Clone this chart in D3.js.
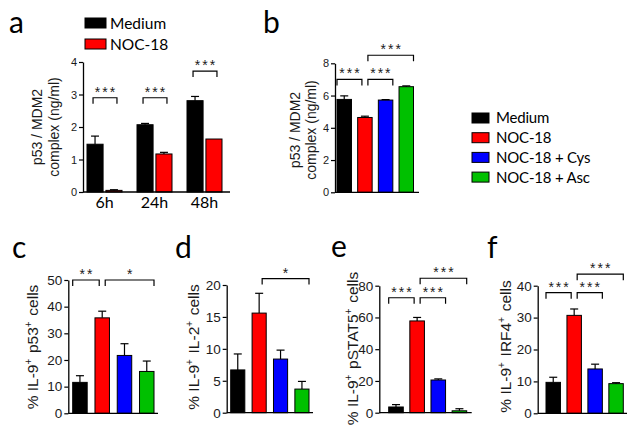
<!DOCTYPE html>
<html>
<head>
<meta charset="utf-8">
<script src="https://cdn.jsdelivr.net/npm/d3@7"></script>
<style>
  body { margin: 0; background: #fff; }
  text { font-family: "Liberation Sans", Arial, sans-serif; fill: #1a1a1a; }
  .calibri { font-family: Lato, "Open Sans", sans-serif; fill: #000; }
</style>
</head>
<body>
<svg id="fig" width="636" height="437"></svg>
<script>
// ---- data ----
var timeGroups = ["6h", "24h", "48h"];
var seriesA = ["Medium", "NOC-18"];
var mediumA = [1.47, 2.07, 2.81];
var mediumErrA = [0.25, 0.04, 0.13];
var nocA = [0.05, 1.17, 1.63];
var nocErrA = [0.02, 0.05, 0.0];
var ticksA = [0, 1, 2, 3, 4];
var bracketsA = [[0, 2.9, "***"], [1, 2.9, "***"], [2, 3.72, "***"]];

var treatments = ["Medium", "NOC-18", "NOC-18 + Cys", "NOC-18 + Asc"];
var colors = ["#000000", "#ff0000", "#0000ff", "#00c000"];

var valuesB = [5.76, 4.64, 5.72, 6.55];
var errB = [0.22, 0.08, 0.03, 0.05];
var ticksB = [0, 2, 4, 6, 8];
var bracketsB = [[0, 1, 7.0, "***"], [1, 2, 7.0, "***"], [1, 3, 8.5, "***"]];

var valuesC = [11.6, 35.8, 21.7, 15.7];
var errC = [2.5, 2.5, 4.4, 3.9];
var ticksC = [0, 10, 20, 30, 40, 50];
var bracketsC = [[0, 1, 50, "**"], [1, 3, 50, "*"]];

var valuesD = [6.7, 15.6, 8.4, 3.7];
var errD = [2.5, 3.1, 1.4, 1.2];
var ticksD = [0, 5, 10, 15, 20];
var bracketsD = [[1, 3, 21, "*"]];

var valuesE = [3.6, 57.8, 20.6, 1.2];
var errE = [1.5, 2.2, 0.7, 1.3];
var ticksE = [0, 20, 40, 60, 80];
var bracketsE = [[0, 1, 72.4, "***"], [1, 2, 72.4, "***"], [1, 3, 84.7, "***"]];

var valuesF = [9.7, 30.7, 13.9, 9.3];
var errF = [1.6, 2.0, 1.5, 0.3];
var ticksF = [0, 10, 20, 30, 40];
var bracketsF = [[0, 1, 37.8, "***"], [1, 2, 37.8, "***"], [1, 3, 43.6, "***"]];

var svg = d3.select("#fig");

// ---- helpers ----
function drawYAxis(g, y, ticks, axisX, fontSize) {
  var ax = g.append("g")
    .attr("transform", "translate(" + axisX + ",0)")
    .call(d3.axisLeft(y).tickValues(ticks).tickFormat(d3.format("d"))
      .tickSize(4).tickSizeOuter(0).tickPadding(2));
  ax.select(".domain").attr("stroke", "#000").attr("stroke-width", 1.3);
  ax.selectAll(".tick line").attr("stroke", "#000").attr("stroke-width", 1.2);
  ax.selectAll(".tick text")
    .style("font-family", '"Liberation Sans", Arial, sans-serif')
    .style("font-size", fontSize + "px")
    .attr("fill", "#222");
}

function drawBaseline(g, x1, x2, yPos) {
  g.append("line")
    .attr("x1", x1).attr("x2", x2)
    .attr("y1", yPos).attr("y2", yPos)
    .attr("stroke", "#000").attr("stroke-width", 1.3);
}

function drawBar(g, x, w, y, value, err, color) {
  g.append("rect")
    .attr("x", x).attr("width", w)
    .attr("y", y(value)).attr("height", y(0) - y(value))
    .attr("fill", color).attr("stroke", "#000").attr("stroke-width", 1);
  if (err > 0) {
    var cx = x + w / 2;
    g.append("line").attr("x1", cx).attr("x2", cx)
      .attr("y1", y(value)).attr("y2", y(value + err))
      .attr("stroke", "#000").attr("stroke-width", 1.2);
    g.append("line").attr("x1", cx - 4).attr("x2", cx + 4)
      .attr("y1", y(value + err)).attr("y2", y(value + err))
      .attr("stroke", "#000").attr("stroke-width", 1.2);
  }
}

function drawBracket(g, x1, x2, yPos, label) {
  g.append("path")
    .attr("d", "M" + x1 + "," + (yPos + 6) + "V" + yPos + "H" + x2 + "V" + (yPos + 6))
    .attr("fill", "none").attr("stroke", "#000").attr("stroke-width", 1.2);
  g.append("text")
    .attr("x", (x1 + x2) / 2 + 1).attr("y", yPos - 1)
    .attr("text-anchor", "middle")
    .style("font-size", "14px")
    .style("letter-spacing", "2px")
    .attr("fill", "#222")
    .text(label);
}

function panelLetter(x, y, ch) {
  svg.append("text").attr("class", "calibri")
    .attr("x", x).attr("y", y)
    .style("font-size", "30px")
    .text(ch);
}

function yLabelLines(cx, cy, lines, fontSize, gap) {
  lines.forEach(function (parts, i) {
    var t = svg.append("text")
      .attr("transform", "translate(" + (cx + i * gap) + "," + cy + ") rotate(-90)")
      .attr("text-anchor", "middle")
      .style("font-size", fontSize + "px")
      .attr("fill", "#222");
    parts.forEach(function (p) {
      if (p.sup) {
        t.append("tspan").attr("dy", -fontSize * 0.4).style("font-size", (fontSize * 0.65) + "px").text(p.t);
        t.append("tspan").attr("dy", fontSize * 0.4).text("\u200a");
      } else {
        t.append("tspan").text(p.t);
      }
    });
  });
}

// ---- panel a ----
(function () {
  var g = svg.append("g");
  var y = d3.scaleLinear().domain([0, 4]).range([192, 62]);
  var x0 = d3.scaleBand().domain(timeGroups).range([87, 222]).paddingInner(0.3);
  var x1 = d3.scaleBand().domain(seriesA).range([0, x0.bandwidth()]).paddingInner(0.15);

  timeGroups.forEach(function (grp, i) {
    drawBar(g, x0(grp) + x1("Medium"), x1.bandwidth(), y, mediumA[i], mediumErrA[i], colors[0]);
    drawBar(g, x0(grp) + x1("NOC-18"), x1.bandwidth(), y, nocA[i], nocErrA[i], colors[1]);
  });

  drawYAxis(g, y, ticksA, 83, 11);
  drawBaseline(g, 83, 230, y(0));

  var xa = g.append("g").attr("transform", "translate(0," + y(0) + ")")
    .call(d3.axisBottom(x0).tickSize(0).tickPadding(5));
  xa.select(".domain").remove();
  xa.selectAll(".tick text").attr("class", "calibri")
    .style("font-family", "Lato, sans-serif").style("font-size", "16px").attr("fill", "#000");

  bracketsA.forEach(function (b) {
    var grp = timeGroups[b[0]];
    var a1 = x0(grp) + x1("Medium") + x1.bandwidth() / 2 - 2;
    var a2 = x0(grp) + x1("NOC-18") + x1.bandwidth() / 2 + 3;
    drawBracket(g, a1, a2, y(b[1]), b[2]);
  });

  // legend
  seriesA.forEach(function (s, i) {
    svg.append("rect").attr("x", 85).attr("y", 18 + i * 21).attr("width", 21).attr("height", 10)
      .attr("fill", colors[i]).attr("stroke", "#000").attr("stroke-width", 1);
    svg.append("text").attr("class", "calibri").attr("x", 110).attr("y", 23 + i * 21)
      .attr("dy", "0.36em").style("font-size", "15.5px").text(s);
  });

  yLabelLines(42, 127, [[{ t: "p53 / MDM2" }], [{ t: "complex (ng/ml)" }]], 14, 17);
  panelLetter(9, 33, "a");
})();

// ---- four-bar panels ----
function treatmentPanel(opts) {
  var g = svg.append("g");
  var y = d3.scaleLinear().domain(opts.domain).range(opts.yRange);
  var x = d3.scaleBand().domain(treatments).range(opts.barRange).paddingInner(opts.pad);

  treatments.forEach(function (t, i) {
    drawBar(g, x(t), x.bandwidth(), y, opts.values[i], opts.errs[i], colors[i]);
  });
  drawYAxis(g, y, opts.ticks, opts.axisX, opts.tickFont);
  drawBaseline(g, opts.axisX, opts.axisEnd, y(0));

  opts.brackets.forEach(function (b) {
    var i = b[0], j = b[1];
    var left = i === 1 ? x(treatments[i]) + x.bandwidth() / 2 + 3 : x(treatments[i]);
    var right = j === 1 ? x(treatments[j]) + x.bandwidth() / 2 - 3 : x(treatments[j]) + x.bandwidth();
    drawBracket(g, left, right, y(b[2]), b[3]);
  });
}

treatmentPanel({ domain: [0, 8], yRange: [192.3, 63.3], barRange: [337, 413.5], pad: 0.3,
  values: valuesB, errs: errB, ticks: ticksB, axisX: 335, axisEnd: 419, tickFont: 11, brackets: bracketsB });
yLabelLines(300, 130, [[{ t: "p53 / MDM2" }], [{ t: "complex (ng/ml)" }]], 14, 16);
panelLetter(263, 33, "b");

// legend b
treatments.forEach(function (t, i) {
  svg.append("rect").attr("x", 472).attr("y", 113 + i * 19.7).attr("width", 17).attr("height", 10)
    .attr("fill", colors[i]).attr("stroke", "#000").attr("stroke-width", 1);
  svg.append("text").attr("class", "calibri").attr("x", 496).attr("y", 118 + i * 19.7)
    .attr("dy", "0.36em").style("font-size", "15px").style("letter-spacing", "-0.2px").text(t);
});

var labelFont = 15.5;

treatmentPanel({ domain: [0, 50], yRange: [413.3, 280], barRange: [72.7, 154], pad: 0.35,
  values: valuesC, errs: errC, ticks: ticksC, axisX: 68.3, axisEnd: 158, tickFont: 13.5, brackets: bracketsC });
yLabelLines(38, 347, [[{ t: "% IL-9" }, { t: "+", sup: true }, { t: " p53" }, { t: "+", sup: true }, { t: " cells" }]], labelFont, 0);
panelLetter(12, 258, "c");

treatmentPanel({ domain: [0, 20], yRange: [412.7, 285], barRange: [230.7, 309], pad: 0.34,
  values: valuesD, errs: errD, ticks: ticksD, axisX: 226.7, axisEnd: 313, tickFont: 13.5, brackets: bracketsD });
yLabelLines(199, 347, [[{ t: "% IL-9" }, { t: "+", sup: true }, { t: " IL-2" }, { t: "+", sup: true }, { t: " cells" }]], labelFont, 0);
panelLetter(175, 258, "d");

treatmentPanel({ domain: [0, 80], yRange: [412.7, 285.7], barRange: [388.7, 466.7], pad: 0.31,
  values: valuesE, errs: errE, ticks: ticksE, axisX: 379.3, axisEnd: 471.7, tickFont: 13.5, brackets: bracketsE });
yLabelLines(358, 348.5, [[{ t: "% IL-9" }, { t: "+", sup: true }, { t: " pSTAT5" }, { t: "+", sup: true }, { t: " cells" }]], labelFont, 0);
panelLetter(331, 257, "e");

treatmentPanel({ domain: [0, 40], yRange: [413.3, 285.7], barRange: [546, 623.3], pad: 0.31,
  values: valuesF, errs: errF, ticks: ticksF, axisX: 537.7, axisEnd: 627, tickFont: 13.5, brackets: bracketsF });
yLabelLines(510.7, 346.5, [[{ t: "% IL-9" }, { t: "+", sup: true }, { t: " IRF4" }, { t: "+", sup: true }, { t: " cells" }]], labelFont, 0);
panelLetter(487, 258, "f");
</script>
</body>
</html>
